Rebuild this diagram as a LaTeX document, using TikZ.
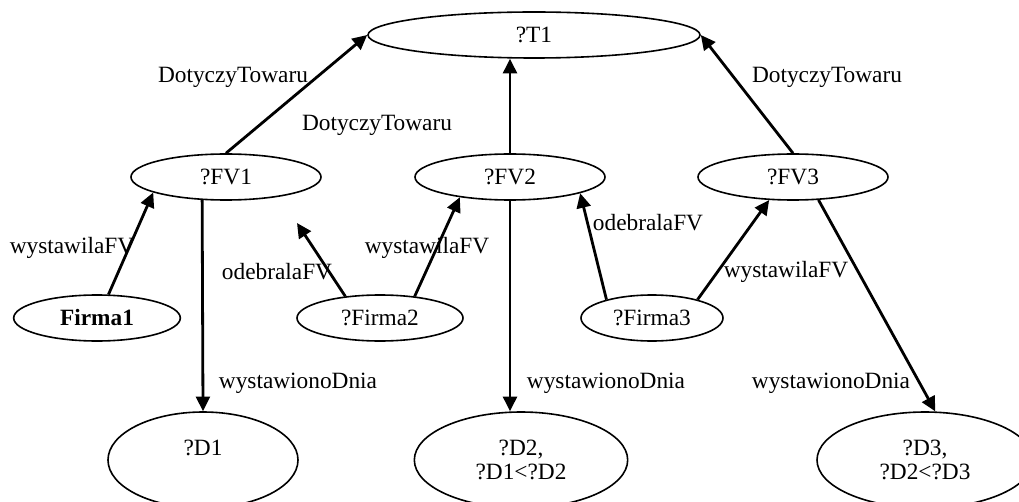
\documentclass[tikz,border=0pt]{standalone}
\usepackage{fontspec}
\setmainfont{Liberation Serif}
\usetikzlibrary{shapes.geometric,arrows.meta}

\begin{document}
\begin{tikzpicture}[x=0.75pt,y=-0.75pt,
    every node/.style={font=\fontsize{17.5}{18}\selectfont},
    obj/.style={draw,ellipse,line width=1.2pt,inner sep=0pt,align=center,
        minimum height=34.5pt,minimum width=#1},
    obj/.default=142.5pt,
    lab/.style={inner sep=0pt},
    rel/.style={line width=2.1pt,-{Triangle[length=11pt,width=10.5pt]}}]
\useasboundingbox (0,0) rectangle (1019,502);
\node[obj=249pt] (t1) at (534,35) {?T1};
\foreach \n/\x in {1/226,2/510,3/793} {
    \node[obj] (fv\n) at (\x,177) {?FV\n};
}
\node[obj=125pt] (firma1) at (97,318) {\textbf{Firma1}};
\node[obj=124.5pt] (firma2) at (380,318) {?Firma2};
\node[obj=106.5pt] (firma3) at (652,318) {?Firma3};
\node[obj=142.5pt,minimum height=72pt] (d1) at (203,460) {?D1\\\mbox{}};
\node[obj=160pt,minimum height=72pt] (d2) at (521,460) {?D2,\\?D1<?D2};
\node[obj=162pt,minimum height=72pt] (d3) at (925,460) {?D3,\\?D2<?D3};
\coordinate (odb1) at (297,223);
\draw[rel] (fv1.north) -- (t1.west);
\draw[rel] (fv2.north) -- (fv2.north |- t1.south);
\draw[rel] (fv3.north) -- (t1.east);
\draw[rel] (firma1.64) -- (fv1.192);
\draw[rel] (firma2.148) -- (odb1);
\draw[rel] (firma2.32) -- (fv2.202);
\draw[rel] (firma3.158) -- (fv2.347);
\draw[rel] (firma3.22) -- (fv3.224);
\draw[rel] (fv1.224) -- (d1.north);
\draw[rel] (fv2.south) -- (fv2.south |- d2.north);
\draw[rel] (fv3.318) -- (d3.78);
\node[lab] (l1) at (233,77) {DotyczyTowaru};
\node[lab] (l2) at (377,125) {DotyczyTowaru};
\node[lab] (l3) at (827,77) {DotyczyTowaru};
\node[lab] (l4) at (72,248) {wystawilaFV};
\node[lab] (l5) at (427,248) {wystawilaFV};
\node[lab] (l6) at (786,272) {wystawilaFV};
\node[lab] (l7) at (277,272) {odebralaFV};
\node[lab] (l8) at (648,223) {odebralaFV};
\node[lab] (l9) at (298,383) {wystawionoDnia};
\node[lab] (l10) at (606,383) {wystawionoDnia};
\node[lab] (l11) at (831,383) {wystawionoDnia};
\end{tikzpicture}
\end{document}
